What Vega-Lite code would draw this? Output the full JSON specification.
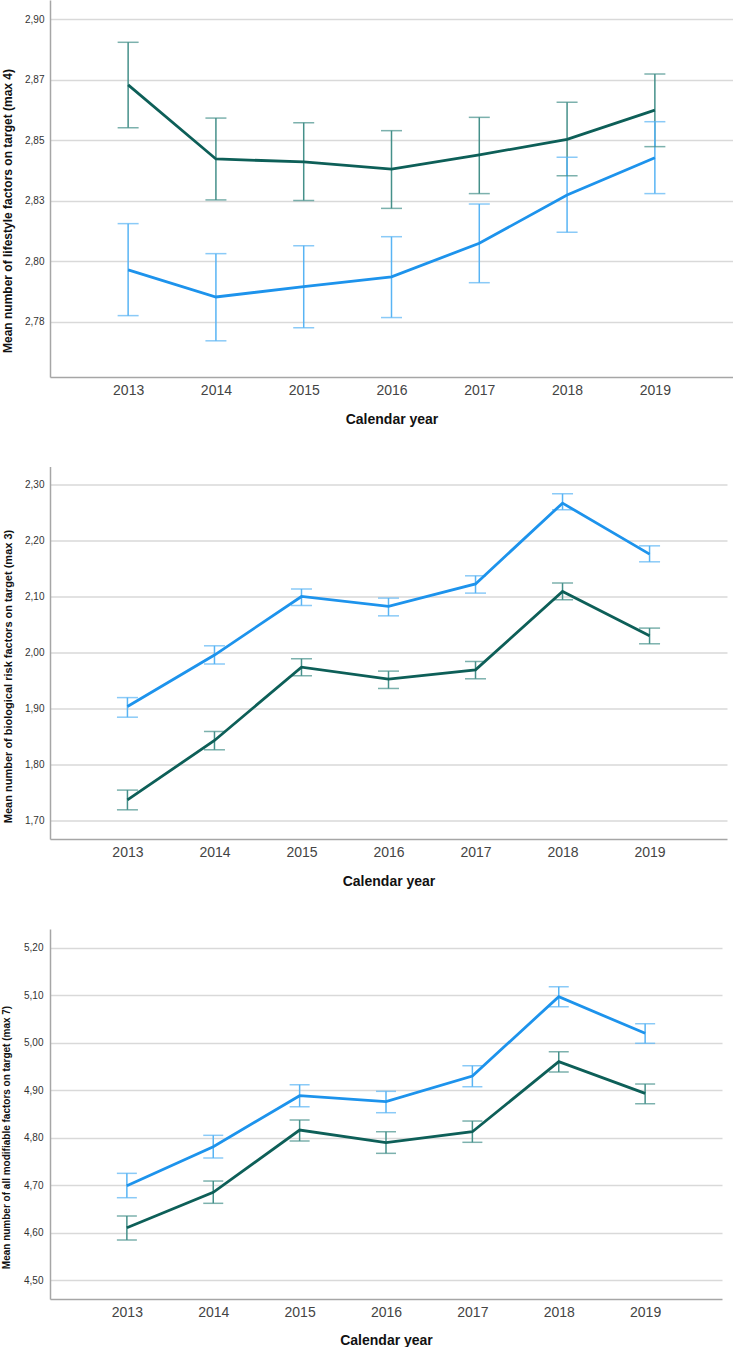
{
  "$schema": "https://vega.github.io/schema/vega-lite/v6.json",
  "padding": {"left": 1, "top": 0, "right": 0, "bottom": 0},
  "background": "white",
  "config": {
    "font": "Liberation Sans",
    "view": {"stroke": null},
    "axis": {"domainColor": "#a6a6a6", "domainWidth": 1.5, "gridColor": "#d9d9d9", "gridWidth": 1.5, "ticks": false},
    "concat": {"spacing": 40.5}
  },
  "columns": 1,
  "align": "none",
  "bounds": "full",
  "concat": [
    {
      "width": 683, "height": 377,
      "data": {"values": [
        {"year": 2013, "group": "A", "mean": 2.8729, "lo": 2.8552, "hi": 2.8905},
        {"year": 2014, "group": "A", "mean": 2.8423, "lo": 2.8254, "hi": 2.8592},
        {"year": 2015, "group": "A", "mean": 2.8411, "lo": 2.8252, "hi": 2.8573},
        {"year": 2016, "group": "A", "mean": 2.8381, "lo": 2.8219, "hi": 2.8540},
        {"year": 2017, "group": "A", "mean": 2.8440, "lo": 2.8280, "hi": 2.8595},
        {"year": 2018, "group": "A", "mean": 2.8504, "lo": 2.8354, "hi": 2.8657},
        {"year": 2019, "group": "A", "mean": 2.8625, "lo": 2.8474, "hi": 2.8774},
        {"year": 2013, "group": "B", "mean": 2.7965, "lo": 2.7776, "hi": 2.8156},
        {"year": 2014, "group": "B", "mean": 2.7853, "lo": 2.7672, "hi": 2.8032},
        {"year": 2015, "group": "B", "mean": 2.7896, "lo": 2.7726, "hi": 2.8065},
        {"year": 2016, "group": "B", "mean": 2.7936, "lo": 2.7768, "hi": 2.8102},
        {"year": 2017, "group": "B", "mean": 2.8075, "lo": 2.7912, "hi": 2.8237},
        {"year": 2018, "group": "B", "mean": 2.8274, "lo": 2.8120, "hi": 2.8430},
        {"year": 2019, "group": "B", "mean": 2.8428, "lo": 2.8280, "hi": 2.8577}
      ]},
      "encoding": {
        "x": {"field": "year", "type": "quantitative",
          "scale": {"domain": [2012.11, 2019.89], "nice": false, "zero": false},
          "axis": {"values": [2013, 2014, 2015, 2016, 2017, 2018, 2019], "format": "d", "grid": false, "labelFontSize": 14, "labelColor": "#444444", "labelPadding": 6, "title": "Calendar year", "titleFontSize": 14, "titleFontWeight": "bold", "titleColor": "#111111", "titlePadding": 15}}
      },
      "layer": [
        {"mark": {"type": "rule", "strokeWidth": 1.5},
         "encoding": {
           "y": {"field": "lo", "type": "quantitative", "scale": {"domain": [2.75225, 2.90797], "nice": false, "zero": false},
             "axis": {"values": [2.775, 2.8, 2.825, 2.85, 2.875, 2.9], "labelExpr": "datum.value > 2.89 ? '2,90' : datum.value > 2.87 ? '2,87' : datum.value > 2.84 ? '2,85' : datum.value > 2.82 ? '2,83' : datum.value > 2.79 ? '2,80' : '2,78'", "labelFontSize": 10, "labelColor": "#333333", "labelPadding": 6, "title": "Mean number of lifestyle factors on target (max 4)", "titleFontSize": 12, "titleFontWeight": "bold", "titleColor": "#111111", "titleX": -36, "titleY": 210.5}},
           "y2": {"field": "hi"},
           "color": {"field": "group", "type": "nominal", "scale": {"domain": ["A", "B"], "range": ["#45908a", "#58b4f4"]}, "legend": null}
         }},
        {"mark": {"type": "tick", "orient": "horizontal", "size": 21, "thickness": 1.5},
         "encoding": {
           "y": {"field": "lo", "type": "quantitative", "title": "Mean number of lifestyle factors on target (max 4)"},
           "color": {"field": "group", "type": "nominal", "scale": {"domain": ["A", "B"], "range": ["#45908a", "#58b4f4"]}, "legend": null}
         }},
        {"mark": {"type": "tick", "orient": "horizontal", "size": 21, "thickness": 1.5},
         "encoding": {
           "y": {"field": "hi", "type": "quantitative", "title": "Mean number of lifestyle factors on target (max 4)"},
           "color": {"field": "group", "type": "nominal", "scale": {"domain": ["A", "B"], "range": ["#45908a", "#58b4f4"]}, "legend": null}
         }},
        {"mark": {"type": "line", "strokeWidth": 2.8},
         "encoding": {
           "y": {"field": "mean", "type": "quantitative", "title": "Mean number of lifestyle factors on target (max 4)"},
           "color": {"field": "group", "type": "nominal", "scale": {"domain": ["A", "B"], "range": ["#0d5f58", "#1d93ec"]}, "legend": null}
         }}
      ],
      "resolve": {"scale": {"color": "independent"}}
    },
    {
      "width": 677, "height": 372.6,
      "data": {"values": [
        {"year": 2013, "group": "A", "mean": 1.7375, "lo": 1.7196, "hi": 1.7548},
        {"year": 2014, "group": "A", "mean": 1.8434, "lo": 1.8268, "hi": 1.8595},
        {"year": 2015, "group": "A", "mean": 1.9744, "lo": 1.9589, "hi": 1.9893},
        {"year": 2016, "group": "A", "mean": 1.9530, "lo": 1.9363, "hi": 1.9673},
        {"year": 2017, "group": "A", "mean": 1.9696, "lo": 1.9536, "hi": 1.9845},
        {"year": 2018, "group": "A", "mean": 2.1095, "lo": 2.0946, "hi": 2.1245},
        {"year": 2019, "group": "A", "mean": 2.0304, "lo": 2.0161, "hi": 2.0441},
        {"year": 2013, "group": "B", "mean": 1.9040, "lo": 1.8850, "hi": 1.9200},
        {"year": 2014, "group": "B", "mean": 1.9960, "lo": 1.9800, "hi": 2.0125},
        {"year": 2015, "group": "B", "mean": 2.1006, "lo": 2.0845, "hi": 2.1140},
        {"year": 2016, "group": "B", "mean": 2.0830, "lo": 2.0660, "hi": 2.0977},
        {"year": 2017, "group": "B", "mean": 2.1230, "lo": 2.1066, "hi": 2.1375},
        {"year": 2018, "group": "B", "mean": 2.2673, "lo": 2.2554, "hi": 2.2840},
        {"year": 2019, "group": "B", "mean": 2.1762, "lo": 2.1625, "hi": 2.1910}
      ]},
      "encoding": {
        "x": {"field": "year", "type": "quantitative",
          "scale": {"domain": [2012.11, 2019.89], "nice": false, "zero": false},
          "axis": {"values": [2013, 2014, 2015, 2016, 2017, 2018, 2019], "format": "d", "grid": false, "labelFontSize": 14, "labelColor": "#444444", "labelPadding": 6, "title": "Calendar year", "titleFontSize": 14, "titleFontWeight": "bold", "titleColor": "#111111", "titlePadding": 15}}
      },
      "layer": [
        {"mark": {"type": "rule", "strokeWidth": 1.5},
         "encoding": {
           "y": {"field": "lo", "type": "quantitative", "scale": {"domain": [1.6673, 2.3327], "nice": false, "zero": false},
             "axis": {"values": [1.7, 1.8, 1.9, 2.0, 2.1, 2.2, 2.3], "labelExpr": "replace(format(datum.value, '.2f'), '.', ',')", "labelFontSize": 10, "labelColor": "#333333", "labelPadding": 6, "title": "Mean number of biological risk factors on target (max 3)", "titleFontSize": 11, "titleFontWeight": "bold", "titleColor": "#111111", "titleX": -36.5, "titleY": 209.5}},
           "y2": {"field": "hi"},
           "color": {"field": "group", "type": "nominal", "scale": {"domain": ["A", "B"], "range": ["#45908a", "#58b4f4"]}, "legend": null}
         }},
        {"mark": {"type": "tick", "orient": "horizontal", "size": 21, "thickness": 1.5},
         "encoding": {
           "y": {"field": "lo", "type": "quantitative", "title": "Mean number of biological risk factors on target (max 3)"},
           "color": {"field": "group", "type": "nominal", "scale": {"domain": ["A", "B"], "range": ["#45908a", "#58b4f4"]}, "legend": null}
         }},
        {"mark": {"type": "tick", "orient": "horizontal", "size": 21, "thickness": 1.5},
         "encoding": {
           "y": {"field": "hi", "type": "quantitative", "title": "Mean number of biological risk factors on target (max 3)"},
           "color": {"field": "group", "type": "nominal", "scale": {"domain": ["A", "B"], "range": ["#45908a", "#58b4f4"]}, "legend": null}
         }},
        {"mark": {"type": "line", "strokeWidth": 2.8},
         "encoding": {
           "y": {"field": "mean", "type": "quantitative", "title": "Mean number of biological risk factors on target (max 3)"},
           "color": {"field": "group", "type": "nominal", "scale": {"domain": ["A", "B"], "range": ["#0d5f58", "#1d93ec"]}, "legend": null}
         }}
      ],
      "resolve": {"scale": {"color": "independent"}}
    },
    {
      "width": 672, "height": 370,
      "data": {"values": [
        {"year": 2013, "group": "A", "mean": 4.6107, "lo": 4.5848, "hi": 4.6353},
        {"year": 2014, "group": "A", "mean": 4.6851, "lo": 4.6620, "hi": 4.7089},
        {"year": 2015, "group": "A", "mean": 4.8163, "lo": 4.7931, "hi": 4.8373},
        {"year": 2016, "group": "A", "mean": 4.7896, "lo": 4.7672, "hi": 4.8127},
        {"year": 2017, "group": "A", "mean": 4.8127, "lo": 4.7904, "hi": 4.8352},
        {"year": 2018, "group": "A", "mean": 4.9601, "lo": 4.9384, "hi": 4.9811},
        {"year": 2019, "group": "A", "mean": 4.8935, "lo": 4.8716, "hi": 4.9131},
        {"year": 2013, "group": "B", "mean": 4.6990, "lo": 4.6738, "hi": 4.7251},
        {"year": 2014, "group": "B", "mean": 4.7811, "lo": 4.7574, "hi": 4.8051},
        {"year": 2015, "group": "B", "mean": 4.8885, "lo": 4.8653, "hi": 4.9116},
        {"year": 2016, "group": "B", "mean": 4.8759, "lo": 4.8527, "hi": 4.8977},
        {"year": 2017, "group": "B", "mean": 4.9300, "lo": 4.9074, "hi": 4.9516},
        {"year": 2018, "group": "B", "mean": 5.0969, "lo": 5.0758, "hi": 5.1179},
        {"year": 2019, "group": "B", "mean": 5.0198, "lo": 4.9988, "hi": 5.0400}
      ]},
      "encoding": {
        "x": {"field": "year", "type": "quantitative",
          "scale": {"domain": [2012.11, 2019.89], "nice": false, "zero": false},
          "axis": {"values": [2013, 2014, 2015, 2016, 2017, 2018, 2019], "format": "d", "grid": false, "labelFontSize": 14, "labelColor": "#444444", "labelPadding": 6, "title": "Calendar year", "titleFontSize": 14, "titleFontWeight": "bold", "titleColor": "#111111", "titlePadding": 14}}
      },
      "layer": [
        {"mark": {"type": "rule", "strokeWidth": 1.5},
         "encoding": {
           "y": {"field": "lo", "type": "quantitative", "scale": {"domain": [4.4606, 5.2394], "nice": false, "zero": false},
             "axis": {"values": [4.5, 4.6, 4.7, 4.8, 4.9, 5.0, 5.1, 5.2], "labelExpr": "replace(format(datum.value, '.2f'), '.', ',')", "labelFontSize": 10, "labelColor": "#333333", "labelPadding": 7, "title": "Mean number of all modifiable factors on target (max 7)", "titleFontSize": 10, "titleFontWeight": "bold", "titleColor": "#111111", "titleX": -39, "titleY": 208}},
           "y2": {"field": "hi"},
           "color": {"field": "group", "type": "nominal", "scale": {"domain": ["A", "B"], "range": ["#45908a", "#58b4f4"]}, "legend": null}
         }},
        {"mark": {"type": "tick", "orient": "horizontal", "size": 20, "thickness": 1.5},
         "encoding": {
           "y": {"field": "lo", "type": "quantitative", "title": "Mean number of all modifiable factors on target (max 7)"},
           "color": {"field": "group", "type": "nominal", "scale": {"domain": ["A", "B"], "range": ["#45908a", "#58b4f4"]}, "legend": null}
         }},
        {"mark": {"type": "tick", "orient": "horizontal", "size": 20, "thickness": 1.5},
         "encoding": {
           "y": {"field": "hi", "type": "quantitative", "title": "Mean number of all modifiable factors on target (max 7)"},
           "color": {"field": "group", "type": "nominal", "scale": {"domain": ["A", "B"], "range": ["#45908a", "#58b4f4"]}, "legend": null}
         }},
        {"mark": {"type": "line", "strokeWidth": 2.8},
         "encoding": {
           "y": {"field": "mean", "type": "quantitative", "title": "Mean number of all modifiable factors on target (max 7)"},
           "color": {"field": "group", "type": "nominal", "scale": {"domain": ["A", "B"], "range": ["#0d5f58", "#1d93ec"]}, "legend": null}
         }}
      ],
      "resolve": {"scale": {"color": "independent"}}
    }
  ]
}
